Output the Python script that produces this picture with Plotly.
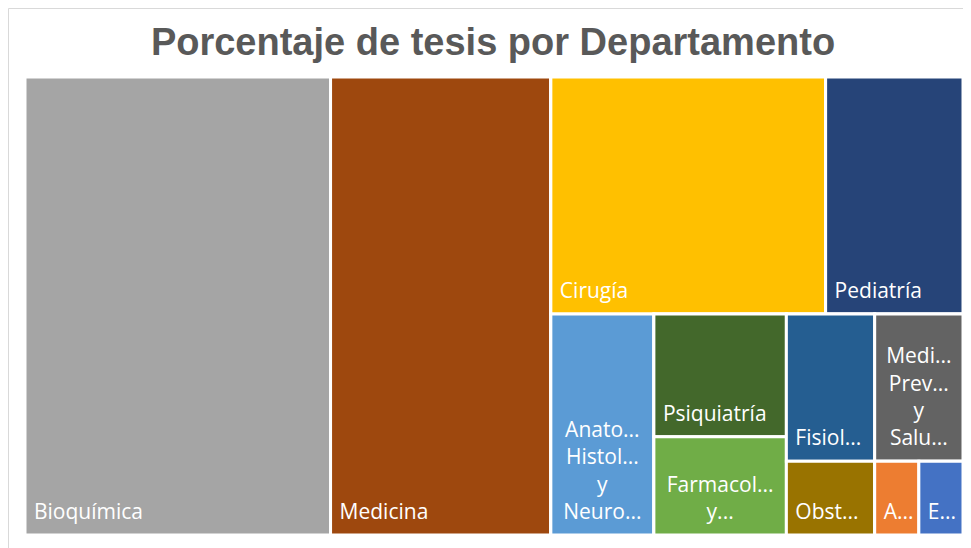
import plotly.graph_objects as go

# Departamentos y número de tesis
departamentos = [
    "Bioquímica", "Medicina", "Cirugía", "Pediatría",
    "Anatomía, Histología y Neurociencia", "Psiquiatría",
    "Farmacología y Terapéutica", "Fisiología", "Obstetricia",
    "Medicina Preventiva y Salud Pública", "Anestesiología", "Enfermería",
]
tesis = [43, 31, 20, 10, 7, 5, 4, 4, 2, 4, 1, 1]
etiquetas = [
    "Bioquímica", "Medicina", "Cirugía", "Pediatría",
    "Anato...<br>Histol...<br>y<br>Neuro...", "Psiquiatría",
    "Farmacol...<br>y...", "Fisiol...", "Obst...",
    "Medi...<br>Prev...<br>y<br>Salu...", "A...", "E...",
]
colores = [
    "#A5A5A5", "#9E480E", "#FFC000", "#264478",
    "#5B9BD5", "#43682B", "#70AD47", "#255E91", "#997300",
    "#636363", "#ED7D31", "#4472C4",
]

# agrupación (nodo, padre) en orden, para reproducir la disposición de Excel
estructura = [
    ("raiz", ""),
    ("Bioquímica", "raiz"), ("Medicina", "raiz"), ("g1", "raiz"),
    ("g2", "g1"), ("Cirugía", "g2"), ("Pediatría", "g2"),
    ("g3", "g1"), ("Anatomía, Histología y Neurociencia", "g3"),
    ("g4", "g3"), ("Psiquiatría", "g4"), ("Farmacología y Terapéutica", "g4"),
    ("g5", "g3"), ("Fisiología", "g5"), ("Obstetricia", "g5"),
    ("g6", "g3"), ("Medicina Preventiva y Salud Pública", "g6"),
    ("g7", "g6"), ("Anestesiología", "g7"), ("Enfermería", "g7"),
]

ids, parents, values, text_izq, text_centro, marker_colors = [], [], [], [], [], []
for nodo, padre in estructura:
    ids.append(nodo)
    parents.append(padre)
    if nodo in departamentos:
        i = departamentos.index(nodo)
        values.append(tesis[i])
        multilinea = "<br>" in etiquetas[i]
        text_izq.append("" if multilinea else etiquetas[i])
        text_centro.append(etiquetas[i] if multilinea else "")
        marker_colors.append(colores[i])
    else:
        values.append(0)
        text_izq.append("")
        text_centro.append("")
        marker_colors.append("white")

# la página añade 8 px de margen al cuerpo
W, H = 963, 540
ml, mr, mt, mb = 17, 2, 62, 13
pw, ph = W - ml - mr, H - mt - mb
dx, dy = 6 / pw, 7 / ph  # desplazamiento del texto dentro de cada celda

fuente = dict(family="Open Sans", size=21, color="white")
comun = dict(ids=ids, labels=ids, parents=parents, values=values,
             branchvalues="remainder", sort=False,
             tiling=dict(packing="slice-dice", pad=0),
             pathbar=dict(visible=False), insidetextfont=fuente)
transparente = dict(colors=["rgba(0,0,0,0)"] * len(ids), line=dict(width=0),
                    pad=dict(t=0, l=0, r=0, b=0))

fig = go.Figure()
fig.add_trace(go.Treemap(
    textinfo="none",
    marker=dict(colors=marker_colors, line=dict(color="white", width=3),
                pad=dict(t=0, l=0, r=0, b=0)),
    hovertemplate="%{label}: %{value}<extra></extra>",
    domain=dict(x=[0, 1 - dx], y=[0, 1 - dy]),
    **comun,
))
fig.add_trace(go.Treemap(
    text=text_izq, texttemplate="%{text}", textposition="bottom left",
    marker=transparente, hoverinfo="skip",
    domain=dict(x=[dx, 1], y=[dy, 1]),
    **comun,
))
fig.add_trace(go.Treemap(
    text=text_centro, texttemplate="%{text}", textposition="bottom center",
    marker=transparente, hoverinfo="skip",
    domain=dict(x=[0, 1 - dx], y=[dy, 1]),
    **comun,
))

fig.update_layout(
    width=W, height=H,
    margin=dict(l=ml, r=mr, t=mt, b=mb),
    paper_bgcolor="white",
    uniformtext=dict(minsize=21, mode="show"),
    title=dict(text="<b>Porcentaje de tesis por Departamento</b>", x=(493 - 8) / W, xanchor="center",
               y=1 - 34 / H, yanchor="middle",
               font=dict(family="Liberation Sans", size=38, color="#595959")),
    shapes=[dict(type="rect", xref="paper", yref="paper",
                 x0=(0.5 - ml) / pw, x1=(W + 10 - ml) / pw,
                 y0=-(mb + 10) / ph, y1=(ph + mt - 0.5) / ph,
                 line=dict(color="#D9D9D9", width=1))],
)

fig.write_html("out.html")
